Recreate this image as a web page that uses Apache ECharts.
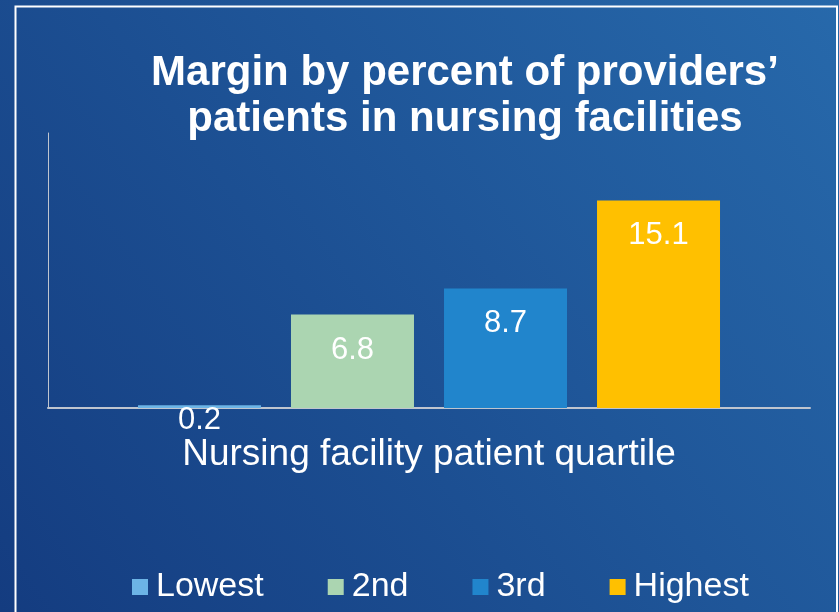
<!DOCTYPE html>
<html>
<head>
<meta charset="utf-8">
<style>
  html, body { margin: 0; padding: 0; }
  #chart { width: 839px; height: 612px; }
</style>
<script src="https://cdn.jsdelivr.net/npm/echarts@6/dist/echarts.min.js"></script>
</head>
<body>
<div id="chart"></div>
<script>
// quartiles and their margins (percent)
const quartiles = ["Lowest", "2nd", "3rd", "Highest"];
const margins = [0.2, 6.8, 8.7, 15.1];
const barColors = ["#6cb4e6", "#abd5b1", "#2185cc", "#ffc000"];

const titleText = "Margin by percent of providers’\npatients in nursing facilities";
const axisName = "Nursing facility patient quartile";

const FONT = "'Liberation Sans', Arial, sans-serif";

const chart = echarts.init(document.getElementById("chart"));

const series = quartiles.map((name, i) => ({
  name: name,
  type: "bar",
  barWidth: 123,
  barGap: "24.4%",
  itemStyle: { color: barColors[i] },
  label: {
    show: true,
    position: "insideTop",
    // the tiny bar's label hangs just under its top
    distance: margins[i] < 1 ? 0 : 20,
    color: "#ffffff",
    fontSize: 31,
    fontFamily: FONT,
  },
  data: [margins[i]],
}));

chart.setOption({
  backgroundColor: {
    type: "linear",
    x: 0, y: 1, x2: 1, y2: 0,
    colorStops: [
      { offset: 0, color: "#143c80" },
      { offset: 1, color: "#2769ab" },
    ],
  },
  textStyle: { fontFamily: FONT },
  grid: { left: 48, right: 29, top: 133, bottom: 204 },
  xAxis: {
    type: "category",
    data: [""],
    name: axisName,
    nameLocation: "middle",
    nameGap: 28,
    nameTextStyle: { color: "#ffffff", fontSize: 37, fontFamily: FONT },
    axisLine: { lineStyle: { color: "#bfc5cf", width: 2 } },
    axisTick: { show: false },
    axisLabel: { show: false },
  },
  yAxis: {
    type: "value",
    min: 0,
    max: 20,
    axisLine: { show: true, lineStyle: { color: "#bfc5cf", width: 1 } },
    axisTick: { show: false },
    axisLabel: { show: false },
    splitLine: { show: false },
  },
  legend: {
    data: quartiles,
    left: 132,
    top: 570,
    padding: 0,
    itemWidth: 16,
    itemHeight: 16,
    itemGap: 64,
    icon: "rect",
    textStyle: { color: "#ffffff", fontSize: 34, fontFamily: FONT, padding: [0, 0, 0, 3] },
  },
  graphic: [
    {
      type: "rect",
      silent: true,
      shape: { x: 15.5, y: 6.5, width: 821.5, height: 620 },
      style: { fill: null, stroke: "#ffffff", lineWidth: 2 },
    },
    {
      type: "text",
      silent: true,
      x: 465,
      y: 50,
      style: {
        text: titleText,
        align: "center",
        verticalAlign: "top",
        fill: "#ffffff",
        fontSize: 42,
        fontWeight: "bold",
        fontFamily: FONT,
        lineHeight: 46,
      },
    },
  ],
  series: series,
});
</script>
</body>
</html>
